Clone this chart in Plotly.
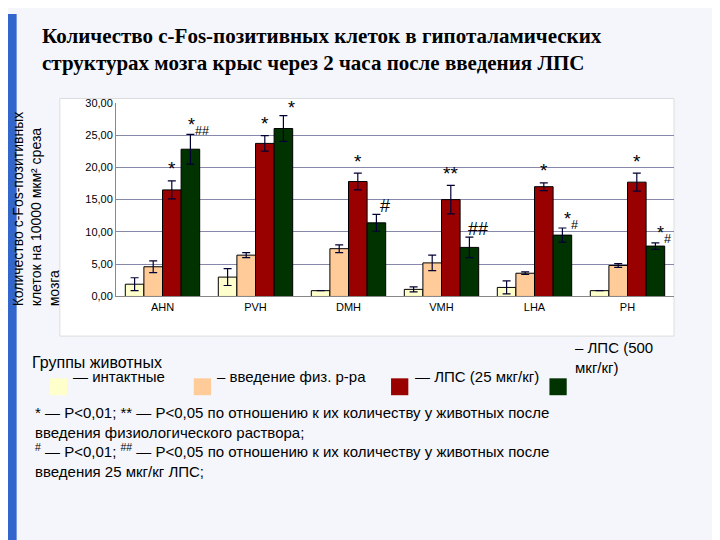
import plotly.graph_objects as go

cats = ["AHN", "PVH", "DMH", "VMH", "LHA", "PH"]
intact = [1.9, 3.0, 0.9, 1.1, 1.4, 0.9]
intact_err = [1.0, 1.3, 0.0, 0.4, 1.0, 0.0]
saline = [4.6, 6.4, 7.4, 5.2, 3.6, 4.8]
saline_err = [0.9, 0.4, 0.6, 1.2, 0.2, 0.3]
lps25 = [16.5, 23.7, 17.8, 15.0, 17.0, 17.7]
lps25_err = [1.4, 1.2, 1.3, 2.2, 0.6, 1.4]
lps500 = [22.8, 26.0, 11.4, 7.6, 9.5, 7.8]
lps500_err = [2.3, 2.0, 1.3, 1.6, 1.1, 0.5]
marks25 = ["*", "*", "*", "**", "*", "*"]
marks500 = ["*<sub>##</sub>", "*", "#", "##", "*<sub>#</sub>", "*<sub>#</sub>"]
ticks = [0, 5, 10, 15, 20, 25, 30]
tick_text = ["0,00", "5,00", "10,00", "15,00", "20,00", "25,00", "30,00"]

colors = ["#FFFFCC", "#FFCC99", "#990000", "#003300"]
series = [(intact, intact_err), (saline, saline_err), (lps25, lps25_err), (lps500, lps500_err)]

fig = go.Figure()
for (v, e), c in zip(series, colors):
    fig.add_bar(x=cats, y=v, marker=dict(color=c, line=dict(color="black", width=1)),
                error_y=dict(type="data", array=e, color="#000033", thickness=1.2, width=4),
                showlegend=False)

ann = []
for i, cat in enumerate(cats):
    ann.append(dict(x=cat, y=lps25[i] + lps25_err[i], text=marks25[i], showarrow=False,
                    xref="x", yref="y", xshift=9, yshift=12, font=dict(size=19, color="black")))
    ann.append(dict(x=cat, y=lps500[i] + lps500_err[i], text=marks500[i], showarrow=False,
                    xref="x", yref="y", xshift=36, yshift=8, font=dict(size=18, color="black")))

ann.append(dict(x=0.045, y=0.985, xref="paper", yref="paper", xanchor="left", yanchor="top",
                text="<b>Количество с-Fos-позитивных клеток в гипоталамических<br>структурах мозга крыс через 2 часа после введения ЛПС</b>",
                showarrow=False, align="left",
                font=dict(family="Liberation Serif", size=21, color="black")))
ann.append(dict(x=0.0, y=0.63, xref="paper", yref="paper", xanchor="left", textangle=-90,
                text="Количество с-Fos-позитивных<br>клеток на 10000 мкм² среза<br>мозга",
                showarrow=False, font=dict(size=14, color="black"), align="left"))
ann.append(dict(x=0.03, y=0.34, xref="paper", yref="paper", xanchor="left",
                text="Группы животных", showarrow=False, font=dict(size=16, color="black")))
leg = [(0.058, "— интактные", colors[0]), (0.258, "– введение физ. р-ра", colors[1]),
       (0.532, "— ЛПС (25 мкг/кг)", colors[2]), (0.752, "", colors[3])]
shapes = []
for x, t, c in leg:
    shapes.append(dict(type="rect", xref="paper", yref="paper", x0=x, x1=x + 0.024,
                       y0=0.278, y1=0.31, fillcolor=c, line=dict(width=0)))
    if t:
        ann.append(dict(x=x + 0.03, y=0.294, xref="paper", yref="paper", xanchor="left",
                        text=t, showarrow=False, font=dict(size=15, color="black")))
ann.append(dict(x=0.785, y=0.31, xref="paper", yref="paper", xanchor="left", align="left",
                text="– ЛПС (500<br>мкг/кг)", showarrow=False, font=dict(size=15, color="black")))
ann.append(dict(x=0.035, y=0.265, xref="paper", yref="paper", xanchor="left", yanchor="top",
                align="left", showarrow=False, font=dict(size=15, color="black"),
                text="* — P<0,01; ** — P<0,05 по отношению к их количеству у животных после<br>"
                     "введения физиологического раствора;<br>"
                     "<sup>#</sup> — P<0,01; <sup>##</sup> — P<0,05 по отношению к их количеству у животных после<br>"
                     "введения 25 мкг/кг ЛПС;"))
shapes.append(dict(type="rect", xref="paper", yref="paper", x0=0.072, x1=0.925, y0=0.39, y1=0.84,
                   fillcolor="white", line=dict(color="#DDDDDD", width=1), layer="below"))
shapes.append(dict(type="rect", xref="paper", yref="paper", x0=0, x1=0.012, y0=0, y1=1,
                   fillcolor="#3366CC", line=dict(width=0)))

fig.update_layout(
    width=720, height=540, barmode="group", bargap=0.2, bargroupgap=0,
    paper_bgcolor="#F4F6FB", plot_bgcolor="#CCCCFF",
    margin=dict(l=0, r=0, t=0, b=0),
    font=dict(family="Liberation Sans", color="black"),
    annotations=ann, shapes=shapes,
    xaxis=dict(domain=[0.15, 0.925], tickfont=dict(size=11), showline=True, linecolor="#888"),
    yaxis=dict(domain=[0.465, 0.832], range=[0, 30], tickvals=ticks, ticktext=tick_text,
               tickfont=dict(size=11), gridcolor="#8888AA", showline=True, linecolor="#888"),
)
fig.write_html("out.html")
